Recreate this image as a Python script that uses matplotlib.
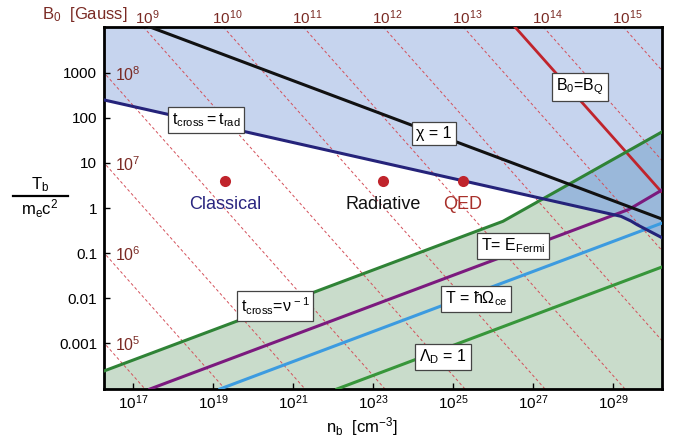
import numpy as np
import matplotlib
matplotlib.use("Agg")
import matplotlib.pyplot as plt
from matplotlib.lines import Line2D

plt.rcParams['font.family'] = ['Liberation Sans', 'DejaVu Sans']
plt.rcParams['mathtext.fontset'] = 'custom'
plt.rcParams['mathtext.rm'] = 'Liberation Sans'
plt.rcParams['mathtext.it'] = 'Liberation Sans:italic'
plt.rcParams['mathtext.bf'] = 'Liberation Sans:bold'

# boundaries, as log10(n_b [cm^-3]) and log10(T_b / m_e c^2)
trad_logn = [16.275, 29.2, 29.45, 29.6, 30.225]      # t_cross = t_rad
trad_logT = [2.40, -0.185, -0.29, -0.37, -0.66]
chi_logn = [17.425, 30.225]                           # chi = 1
chi_logT = [4.02, -0.245]
fermi_logn = [17.425, 29.4, 30.225]                   # T = E_Fermi
fermi_logT = [-4.02, -0.03, 0.40]
cyc_logn = [19.175, 30.225]                           # T = hbar Omega_ce
cyc_logT = [-4.02, -0.335]
debye_logn = [22.1, 30.225]                           # Lambda_D = 1
debye_logT = [-4.02, -1.31]
nu_logn = [16.275, 26.25, 30.225]                     # t_cross = 1/nu
nu_logT = [-3.62, -0.295, 1.69]

# constant B0 contours: log T = 2 log B - log n + eq_offset
B_exps = [5, 6, 7, 8, 9, 10, 11, 12, 13, 14, 15]
B_Q = 4.414e13
eq_offset = 3.28

regimes = ['Classical', 'Radiative', 'QED']
regime_logn = [19.3, 23.25, 25.25]
regime_logT = [0.6, 0.6, 0.6]
regime_colors = ['#2a2680', '#111111', '#a8302a']

xmin, xmax = 16.275, 30.225
ymin, ymax = -4.02, 4.02

fig = plt.figure(figsize=(6.78, 4.43), dpi=100)
ax = fig.add_axes([104 / 678, 1 - 389 / 443, 558 / 678, 362 / 443])
ax.set_xscale('log')
ax.set_yscale('log')
ax.set_xlim(10 ** xmin, 10 ** xmax)
ax.set_ylim(10 ** ymin, 10 ** ymax)

# filled regions
g = np.linspace(xmin, xmax, 800)
top_T = np.interp(g, trad_logn, trad_logT)
green_T = np.interp(g, nu_logn, nu_logT)
ax.fill_between(10 ** g, 10 ** top_T, 10 ** ymax, color='#c6d4ee', lw=0, zorder=0)
ax.fill_between(10 ** g, 10 ** ymin, 10 ** green_T, color='#c9dccb', lw=0, zorder=0)
ax.fill_between(10 ** g, 10 ** top_T, 10 ** green_T, where=green_T > top_T,
                color='#9ab8da', lw=0, zorder=0)

# dashed B0 contours
ln = np.array([15.0, 32.0])
for b in B_exps:
    ax.plot(10 ** ln, 10 ** (2 * b - ln + eq_offset), color='#d4505a', lw=0.7,
            ls=(0, (3, 2.5)), zorder=1)
    lt = 2 * b - xmin + eq_offset
    if ymin < lt < ymax - 0.5:
        ax.text(10 ** (xmin + 0.27), 10 ** (lt - 0.05), r'$10^{%d}$' % b, color='#7a2a24',
                fontsize=11.5, ha='left', va='center', zorder=5)
    lnt = 2 * b - ymax + eq_offset
    if xmin < lnt < xmax:
        ax.annotate(r'$10^{%d}$' % b, (10 ** lnt, 1), xycoords=('data', 'axes fraction'),
                    xytext=(3, 0), textcoords='offset points', ha='center', va='bottom',
                    color='#7a2a24', fontsize=11, annotation_clip=False)

# B0 = B_Q
bq = np.array([25.0, 30.2])
ax.plot(10 ** bq, 10 ** (2 * np.log10(B_Q) - bq + eq_offset), color='#c0242c', lw=2, zorder=3)

ax.plot(10 ** np.array(nu_logn), 10 ** np.array(nu_logT), color='#2f8336', lw=2.2, zorder=3)
ax.plot(10 ** np.array(debye_logn), 10 ** np.array(debye_logT), color='#37963a', lw=2.2, zorder=3)
ax.plot(10 ** np.array(cyc_logn), 10 ** np.array(cyc_logT), color='#3c9be0', lw=2.2, zorder=3)
ax.plot(10 ** np.array(fermi_logn), 10 ** np.array(fermi_logT), color='#7b1a7e', lw=2.2, zorder=3)
ax.plot(10 ** np.array(chi_logn), 10 ** np.array(chi_logT), color='#111111', lw=2.2, zorder=3)
ax.plot(10 ** np.array(trad_logn), 10 ** np.array(trad_logT), color='#25237a', lw=2.2, zorder=3)

# regime markers
for name, lnx, lty, c in zip(regimes, regime_logn, regime_logT, regime_colors):
    ax.plot(10 ** lnx, 10 ** lty, 'o', color='#c0242c', ms=8, mec='none', zorder=4)
    ax.annotate(name, (10 ** lnx, 10 ** lty), xytext=(0, -17), textcoords='offset points',
                ha='center', va='center', fontsize=13, color=c, zorder=4)

box = dict(boxstyle='square,pad=0.25', fc='white', ec='#444444', lw=0.9)
labels = [
    (r'$\mathrm{t}_{\mathrm{cross}}=\mathrm{t}_{\mathrm{rad}}$', 18.825, 1.956),
    ('χ = 1', 24.525, 1.644),
    (r'B$_0$=B$_\mathrm{Q}$', 28.175, 2.69),
    (r'T= E$_{\mathrm{Fermi}}$', 26.5, -0.844),
    (r'T = ħΩ$_{\mathrm{ce}}$', 25.575, -2.02),
    (r'Λ$_{\mathrm{D}}$ = 1', 24.75, -3.31),
    (r't$_{\mathrm{cross}}$=ν$^{\,-1}$', 20.55, -2.18),
]
for txt, lnx, lty in labels:
    ax.text(10 ** lnx, 10 ** lty, txt, ha='center', va='center', fontsize=11.5,
            bbox=box, zorder=6)

# axes styling
xt = [17, 19, 21, 23, 25, 27, 29]
ax.set_xticks([10.0 ** e for e in xt])
ax.set_xticklabels([r'$10^{%d}$' % e for e in xt])
yt = [-3, -2, -1, 0, 1, 2, 3]
ax.set_yticks([10.0 ** e for e in yt])
ax.set_yticklabels(['0.001', '0.01', '0.1', '1', '10', '100', '1000'])
ax.minorticks_off()
ax.tick_params(direction='in', length=4, width=1, labelsize=11)
ax.tick_params(axis='x', pad=3)
ax.tick_params(axis='y', pad=5)
for s in ax.spines.values():
    s.set_linewidth(2)

fig.text(362 / 678, 1 - 427 / 443, r'n$_\mathrm{b}$  [cm$^{-3}$]', ha='center', va='center',
         fontsize=12)

fig.text(127 / 678, 1 - 14 / 443, r'B$_0$  [Gauss]', ha='right', va='center',
         fontsize=12, color='#7a2a24')

# fraction label on the y side
fig.text(40 / 678, 1 - 185 / 443, r'T$_\mathrm{b}$', ha='center', va='center', fontsize=12)
fig.text(40 / 678, 1 - 209 / 443, r'm$_\mathrm{e}$c$^2$', ha='center', va='center', fontsize=12)
fig.add_artist(Line2D([13 / 678, 68 / 678], [1 - 196 / 443, 1 - 196 / 443],
                      color='black', lw=1.6, transform=fig.transFigure))

fig.savefig('out.png', dpi=100)
